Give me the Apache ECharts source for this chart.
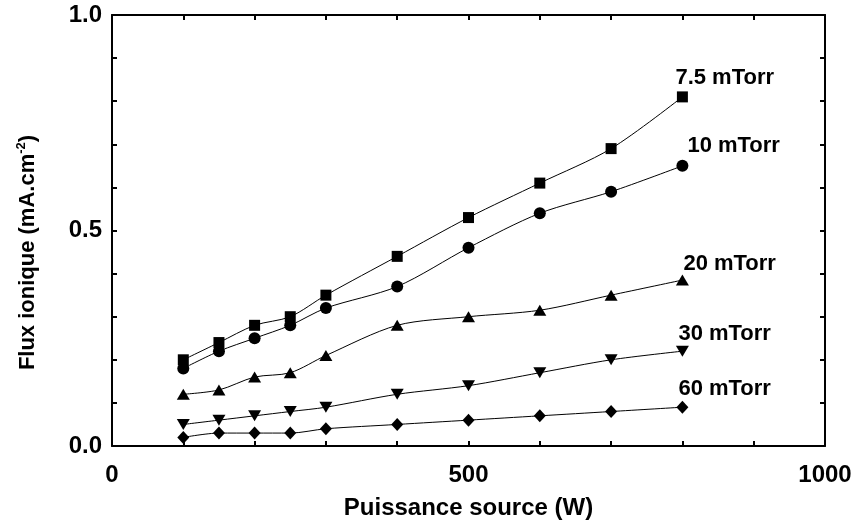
<!DOCTYPE html>
<html>
<head>
<meta charset="utf-8">
<script src="https://cdn.jsdelivr.net/npm/echarts@6/dist/echarts.min.js"></script>
<style>
html,body{margin:0;padding:0;background:#fff;}
#chart{width:857px;height:527px;}
</style>
</head>
<body>
<div id="chart"></div>
<script>
const power = [100,150,200,250,300,400,500,600,700,800];
const flux75 = [0.20,0.24,0.28,0.30,0.35,0.44,0.53,0.61,0.69,0.81];
const flux10 = [0.18,0.22,0.25,0.28,0.32,0.37,0.46,0.54,0.59,0.65];
const flux20 = [0.12,0.13,0.16,0.17,0.21,0.28,0.30,0.315,0.35,0.385];
const flux30 = [0.05,0.06,0.07,0.08,0.09,0.12,0.14,0.17,0.20,0.22];
const flux60 = [0.02,0.03,0.03,0.03,0.04,0.05,0.06,0.07,0.08,0.09];
const seriesNames = ['7.5 mTorr','10 mTorr','20 mTorr','30 mTorr','60 mTorr'];
const xTickLabels = [0, 500, 1000];
const yTickLabels = [0.0, 0.5, 1.0];

const FONT = "'Liberation Sans', Arial, sans-serif";
const allFlux = [flux75, flux10, flux20, flux30, flux60];
const symbols = ['rect','circle','triangle','triangle','diamond'];
const symSizes = [[11,11],[12,12],[13,11],[13,11],[12,13]];
const rotates = [0,0,0,180,0];
const labelOffsets = [[-7,6],[5,5],[1,8],[-4,7],[-4,7]];

const chart = echarts.init(document.getElementById('chart'));
const mkLine = () => ({show:true, onZero:false, lineStyle:{color:'#000', width:2}});
const mkTick = () => ({show:true, inside:false, length:-5, lineStyle:{color:'#000', width:2}});

const series = allFlux.map((vals, i) => ({
  type:'line',
  name: seriesNames[i],
  xAxisIndex:0, yAxisIndex:0,
  smooth: 0.3,
  symbol: symbols[i],
  symbolSize: symSizes[i],
  symbolRotate: rotates[i],
  showAllSymbol: true,
  lineStyle:{color:'#000', width:1},
  itemStyle:{color:'#000'},
  animation:false,
  data: vals.map((v, j) => {
    const item = {value:[power[j], v]};
    if (j === vals.length - 1) {
      item.label = {
        show:true, position:'top', align:'left', distance: 8,
        offset: labelOffsets[i],
        formatter: seriesNames[i],
        fontFamily: FONT, fontWeight:'bold', fontSize:22, color:'#000'
      };
    }
    return item;
  })
}));

chart.setOption({
  backgroundColor:'#fff',
  animation:false,
  grid:{left:112, right:32, top:15, bottom:81},
  xAxis:[{
    type:'value', position:'bottom', min:0, max:1000, interval:100,
    axisLine: mkLine(), axisTick: mkTick(), splitLine:{show:false},
    axisLabel:{
      margin:17, color:'#000', fontFamily:FONT, fontWeight:'bold', fontSize:24,
      formatter: v => xTickLabels.includes(v) ? String(v) : ''
    },
    name:'Puissance source (W)', nameLocation:'middle', nameGap:50,
    nameTextStyle:{color:'#000', fontFamily:FONT, fontWeight:'bold', fontSize:24}
  },{
    type:'value', position:'top', min:0, max:1000, interval:100,
    axisLine: mkLine(), axisTick: mkTick(), axisLabel:{show:false}, splitLine:{show:false}
  }],
  yAxis:[{
    type:'value', position:'left', min:0, max:1, interval:0.1,
    axisLine: mkLine(), axisTick: mkTick(), splitLine:{show:false},
    axisLabel:{
      margin:10, color:'#000', fontFamily:FONT, fontWeight:'bold', fontSize:24,
      padding:[16,0,0,0],
      formatter: v => yTickLabels.some(t => Math.abs(t - v) < 1e-6) ? v.toFixed(1) : ''
    },
    name:'{a|Flux ionique (mA.cm}{s|-2}{a|)}', nameLocation:'middle', nameGap:72,
    nameTextStyle:{
      color:'#000', fontFamily:FONT, fontWeight:'bold', fontSize:22,
      padding:[0,44,0,0],
      rich:{
        a:{fontFamily:FONT, fontWeight:'bold', fontSize:22, color:'#000'},
        s:{fontFamily:FONT, fontWeight:'bold', fontSize:13, color:'#000', verticalAlign:'top', padding:[0,0,12,0]}
      }
    }
  },{
    type:'value', position:'right', min:0, max:1, interval:0.1,
    axisLine: mkLine(), axisTick: mkTick(), axisLabel:{show:false}, splitLine:{show:false}
  }],
  series
});
</script>
</body>
</html>
